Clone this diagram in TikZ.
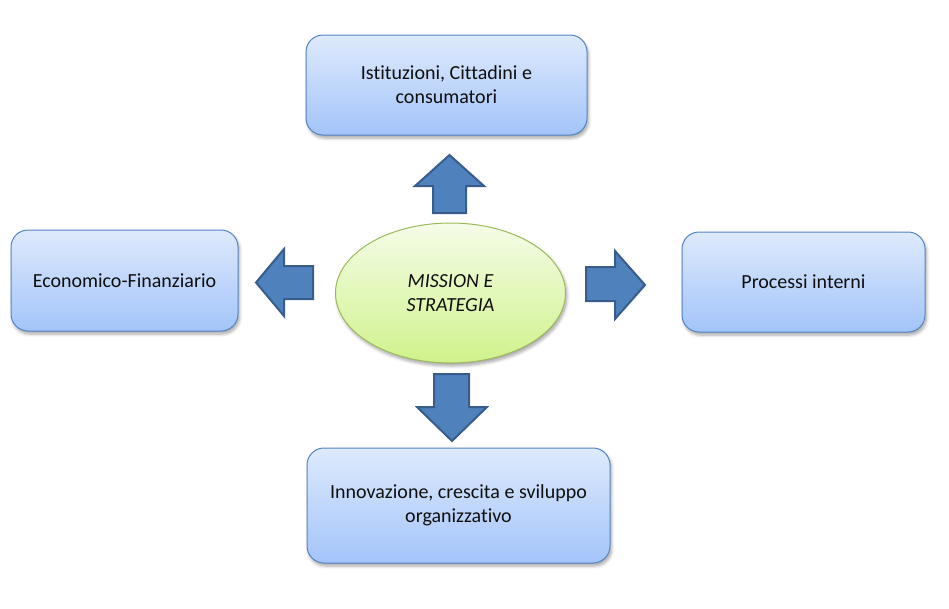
\documentclass[tikz,border=0pt]{standalone}
\usepackage{fontspec}
\setmainfont{Carlito}[Ligatures=NoCommon]
\usetikzlibrary{shapes.geometric,shadows.blur}
\definecolor{boxtop}{RGB}{222,234,252}
\definecolor{boxbot}{RGB}{163,196,250}
\definecolor{boxline}{RGB}{84,132,196}
\definecolor{elltop}{RGB}{245,252,232}
\definecolor{ellbot}{RGB}{208,242,140}
\definecolor{ellline}{RGB}{155,187,89}
\definecolor{arrfill}{RGB}{79,129,189}
\definecolor{arrline}{RGB}{56,93,138}
\definecolor{txt}{RGB}{15,15,15}
\tikzset{
  box/.style={draw=boxline, line width=1pt, rounded corners=17pt, rectangle,
    top color=boxtop, bottom color=boxbot, align=center, text=txt,
    font=\fontsize{20}{24}\selectfont,
    blur shadow={shadow xshift=1.5pt, shadow yshift=-3pt, shadow blur steps=6, shadow blur radius=3pt, shadow opacity=35}},
  core/.style={draw=ellline, line width=1pt, ellipse, top color=elltop, bottom color=ellbot,
    align=center, text=txt, font=\fontsize{20}{24}\selectfont\itshape, inner sep=0pt,
    blur shadow={shadow xshift=1.5pt, shadow yshift=-3pt, shadow blur steps=6, shadow blur radius=3pt, shadow opacity=35}},
  blockarrow/.style={fill=arrfill, draw=arrline, line width=2pt, line join=miter}
}
\begin{document}
\begin{tikzpicture}[x=1pt,y=-1pt]
\useasboundingbox (0,0) rectangle (949,608);
% boxes
\node[box, minimum width=281pt, minimum height=100pt] (top) at (446.5,85)
  {Istituzioni, Cittadini e\\consumatori};
\node[box, minimum width=227pt, minimum height=101pt] (left) at (124.5,280.5)
  {Economico-Finanziario};
\node[box, minimum width=243pt, minimum height=100pt] (right) at (803.5,282)
  {Processi interni};
\node[box, minimum width=303pt, minimum height=115pt] (bottom) at (458.5,505.5)
  {Innovazione, crescita e sviluppo\\organizzativo};
% centre
\node[core, minimum width=230pt, minimum height=140pt] (core) at (450.5,293)
  {MISSION E\\STRATEGIA};
% block arrows
\draw[blockarrow] (433,213) -- (433,186) -- (415,186) -- (449.5,155) -- (484,186) -- (466,186) -- (466,213) -- cycle;
\draw[blockarrow] (313,266) -- (284,266) -- (284,249) -- (256,282.5) -- (284,316) -- (284,299) -- (313,299) -- cycle;
\draw[blockarrow] (586,267) -- (615,267) -- (615,251) -- (645,285) -- (615,319) -- (615,301) -- (586,301) -- cycle;
\draw[blockarrow] (434,374) -- (469,374) -- (469,407) -- (487,407) -- (452,441) -- (417,407) -- (434,407) -- cycle;
\end{tikzpicture}
\end{document}
